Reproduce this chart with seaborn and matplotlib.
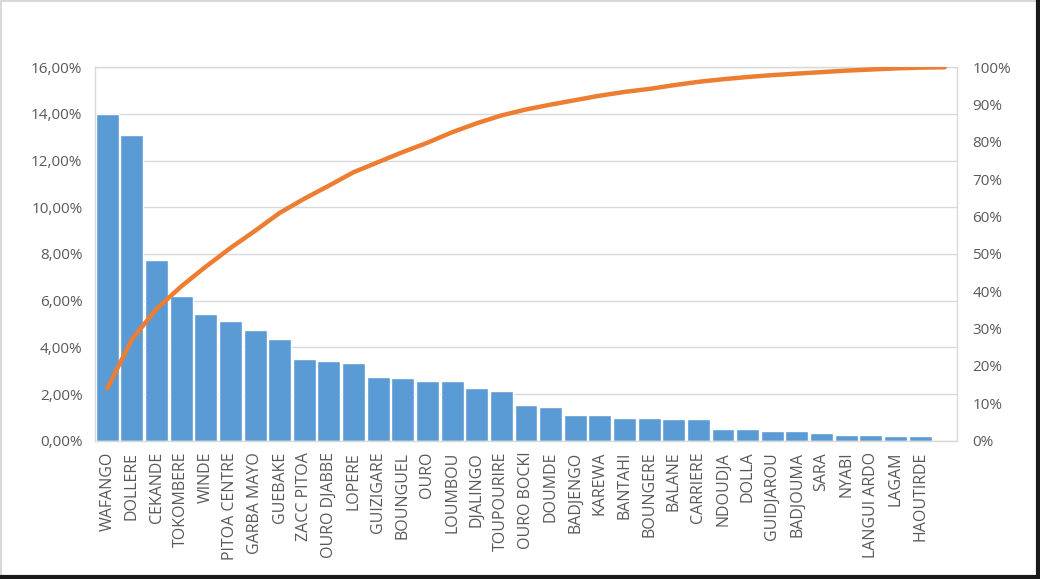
import numpy as np
import pandas as pd
import matplotlib.pyplot as plt
import seaborn as sns
from matplotlib.ticker import FuncFormatter, MultipleLocator
from matplotlib.lines import Line2D

# Données (part de chaque localité, en %)
localites = ["WAFANGO", "DOLLERE", "CEKANDE", "TOKOMBERE", "WINDE", "PITOA CENTRE",
             "GARBA MAYO", "GUEBAKE", "ZACC PITOA", "OURO DJABBE", "LOPERE",
             "GUIZIGARE", "BOUNGUEL", "OURO", "LOUMBOU", "DJALINGO", "TOUPOURIRE",
             "OURO BOCKI", "DOUMDE", "BADJENGO", "KAREWA", "BANTAHI", "BOUNGERE",
             "BALANE", "CARRIERE", "NDOUDJA", "DOLLA", "GUIDJAROU", "BADJOUMA",
             "SARA", "NYABI", "LANGUI ARDO", "LAGAM", "HAOUTIRDE", " "]

pourcentages = [14.0, 13.1, 7.75, 6.2, 5.41, 5.13, 4.74, 4.35, 3.49, 3.42, 3.34,
                2.74, 2.67, 2.54, 2.54, 2.27, 2.14, 1.52, 1.45, 1.11, 1.11, 0.99,
                0.99, 0.92, 0.92, 0.51, 0.51, 0.40, 0.40, 0.31, 0.24, 0.24, 0.18,
                0.18, 0.0]

# Courbe cumulée (axe de droite, en %)
cumul = [14.0, 27.1, 35.3, 41.3, 46.6, 51.6, 56.2, 61.0, 64.8, 68.3, 71.9, 74.6,
         77.3, 79.8, 82.6, 85.0, 87.1, 88.7, 90.0, 91.2, 92.4, 93.4, 94.2, 95.2,
         96.1, 96.8, 97.4, 97.9, 98.3, 98.7, 99.1, 99.4, 99.7, 99.9, 100.0]

df = pd.DataFrame({"localite": localites, "pct": pourcentages})

sns.set_style("white")
plt.rcParams["font.family"] = ["Open Sans", "DejaVu Sans"]

gris_texte = "#595959"
gris_grille = "#D9D9D9"

fig = plt.figure(figsize=(10.4, 5.79), dpi=100)
ax = fig.add_axes([0.0913, 0.2389, 0.8289, 0.6449])

sns.barplot(data=df, x="localite", y="pct", order=localites, color="#5B9BD5",
            saturation=1, width=0.93, ax=ax)

ax2 = ax.twinx()
sns.lineplot(x=np.arange(len(cumul)), y=cumul, ax=ax2, color="#ED7D31",
             linewidth=3.2, sort=False)

# axe de gauche
ax.set_xlim(-0.5, len(localites) - 0.5)
ax.set_ylim(0, 16)
ax.yaxis.set_major_locator(MultipleLocator(2))
ax.yaxis.set_major_formatter(FuncFormatter(lambda v, p: f"{v:.2f}".replace(".", ",") + "%"))
ax.grid(axis="y", color=gris_grille, linewidth=1)
ax.set_axisbelow(True)
ax.set_xlabel("")
ax.set_ylabel("")
ax.tick_params(axis="y", labelsize=11, colors=gris_texte, length=0, pad=9)
ax.tick_params(axis="x", labelsize=11.5, colors=gris_texte, length=0, pad=8, rotation=90)
for s in ax.spines.values():
    s.set_color(gris_grille)
    s.set_linewidth(1)

# axe de droite
ax2.set_ylim(0, 100)
ax2.yaxis.set_major_locator(MultipleLocator(10))
ax2.yaxis.set_major_formatter(FuncFormatter(lambda v, p: f"{v:.0f}%"))
ax2.set_ylabel("")
ax2.tick_params(axis="y", labelsize=11, colors=gris_texte, length=0, pad=11)
for s in ax2.spines.values():
    s.set_visible(False)

# cadre de l'image
fig.add_artist(Line2D([0.001, 0.001], [0, 1], color=gris_grille, linewidth=1.5))
fig.add_artist(Line2D([0, 1], [0.999, 0.999], color=gris_grille, linewidth=1.5))
fig.add_artist(Line2D([0.998, 0.998], [0, 1], color="#1a1a1a", linewidth=3))
fig.add_artist(Line2D([0, 1], [0.004, 0.004], color="#1a1a1a", linewidth=3))

fig.savefig("out.png", dpi=100)
